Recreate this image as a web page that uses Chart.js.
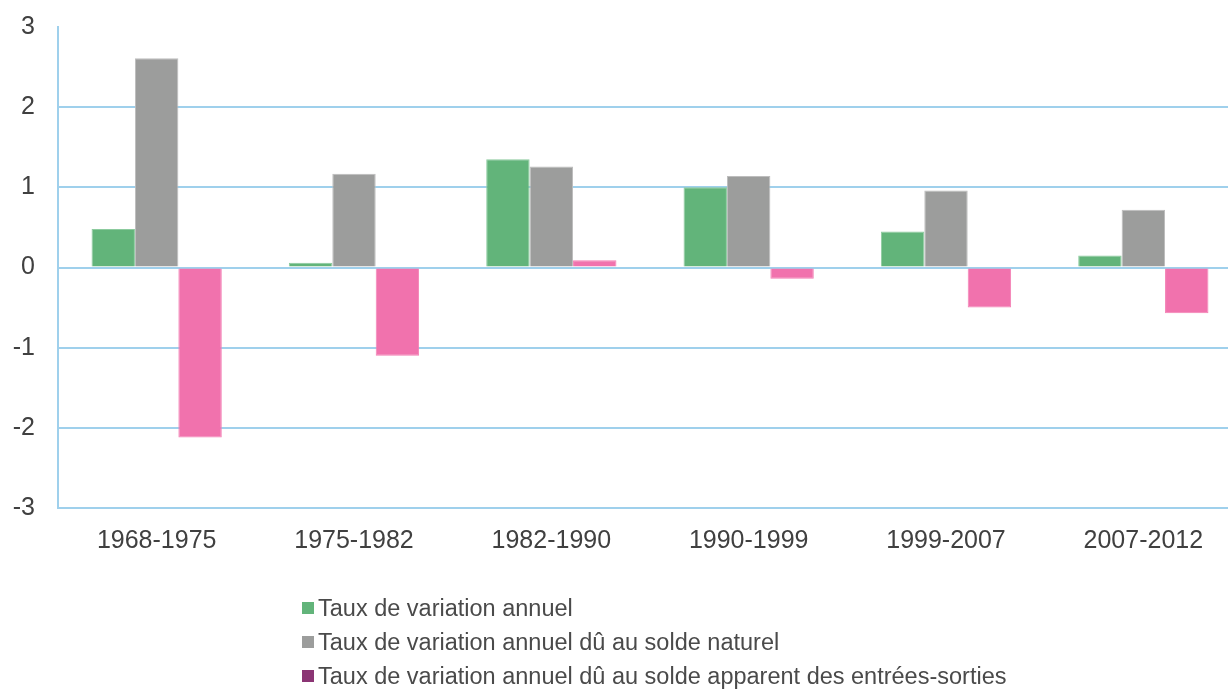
<!DOCTYPE html>
<html><head><meta charset="utf-8">
<script src="https://cdn.jsdelivr.net/npm/chart.js@4/dist/chart.umd.min.js"></script>
<style>html,body{margin:0;padding:0;background:#fff;overflow:hidden}#wrap{width:1228px;height:690px;overflow:hidden}</style>
</head><body><div id="wrap"><canvas id="c" width="1242" height="690"></canvas></div>
<script>
const categories = ['1968-1975','1975-1982','1982-1990','1990-1999','1999-2007','2007-2012'];
const tauxAnnuel = [0.48, 0.06, 1.35, 1.00, 0.45, 0.15];
const soldeNaturel = [2.61, 1.17, 1.26, 1.14, 0.96, 0.72];
const soldeMigratoire = [-2.12, -1.10, 0.09, -0.14, -0.50, -0.57];
const seriesLabels = ['Taux de variation annuel', 'Taux de variation annuel dû au solde naturel', 'Taux de variation annuel dû au solde apparent des entrées-sorties'];
const yTicks = [-3, -2, -1, 0, 1, 2, 3];

const barColors = ['#62b47a', '#9c9d9c', '#f172ad'];
const borderColors = ['#8ccb9e', '#bdbdbd', '#f37fb4'];
const legendColors = ['#62b47a', '#9c9d9c', '#8b3574'];
const FONT = 'Liberation Sans, Arial, sans-serif';

const legendPlugin = {
  id: 'vlegend',
  afterDraw(chart) {
    const ctx = chart.ctx;
    ctx.save();
    ctx.font = '23.5px ' + FONT;
    ctx.textBaseline = 'middle';
    ctx.textAlign = 'left';
    const ys = [608, 642, 676];
    chart.data.datasets.forEach((ds, i) => {
      ctx.fillStyle = legendColors[i];
      ctx.fillRect(302, ys[i] - 6, 12, 12);
      ctx.fillStyle = '#4a4a4a';
      ctx.fillText(ds.label, 318, ys[i] + 2);
    });
    ctx.restore();
  }
};

new Chart(document.getElementById('c'), {
  type: 'bar',
  data: {
    labels: categories,
    datasets: [
      { label: seriesLabels[0], data: tauxAnnuel, backgroundColor: barColors[0], borderColor: borderColors[0], borderWidth: 1 },
      { label: seriesLabels[1], data: soldeNaturel, backgroundColor: barColors[1], borderColor: borderColors[1], borderWidth: 1 },
      { label: seriesLabels[2], data: soldeMigratoire, backgroundColor: barColors[2], borderColor: borderColors[2], borderWidth: 1 }
    ]
  },
  options: {
    responsive: false,
    animation: false,
    layout: { padding: { top: 27, right: 0, bottom: 0, left: 0 } },
    datasets: { bar: { categoryPercentage: 0.66, barPercentage: 1.0 } },
    plugins: { legend: { display: false }, tooltip: { enabled: false } },
    scales: {
      x: {
        grid: { display: false },
        border: { display: false },
        ticks: { color: '#404040', font: { family: FONT, size: 25 }, padding: 10, maxRotation: 0 },
        afterFit: s => { s.height = 182; s.paddingLeft = 0; s.paddingRight = 0; }
      },
      y: {
        min: -3, max: 3,
        afterBuildTicks: s => { s.ticks = yTicks.map(v => ({ value: v })); },
        grid: {
          color: c => (c.tick && c.tick.value === 3) ? 'rgba(0,0,0,0)' : '#9fd0ec',
          lineWidth: 2,
          drawTicks: false
        },
        border: { display: true, color: '#9fd0ec', width: 2 },
        ticks: { color: '#404040', font: { family: FONT, size: 25 }, padding: 23 },
        afterFit: s => { s.width = 58; s.paddingTop = 0; s.paddingBottom = 0; }
      }
    }
  },
  plugins: [legendPlugin]
});
</script></body></html>
